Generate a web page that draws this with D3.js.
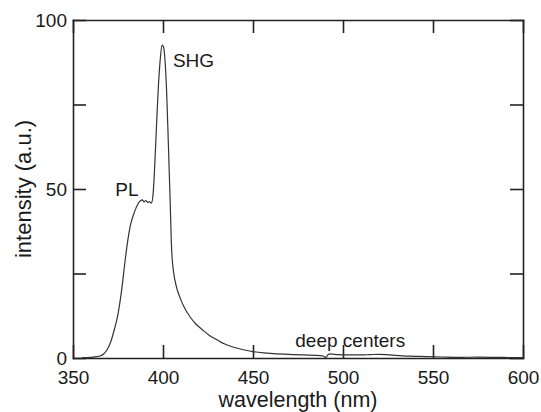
<!DOCTYPE html>
<html>
<head>
<meta charset="utf-8">
<script src="https://cdn.jsdelivr.net/npm/d3@7"></script>
<style>
  body { margin: 0; background: #fff; }
  svg { display: block; font-family: "Liberation Sans", Arial, sans-serif; }
  .axis path, .axis line { stroke: #222; stroke-width: 1.6; }
  .axis text { fill: #1a1a1a; font-size: 19px; }
</style>
</head>
<body>
<div id="chart"></div>
<script>
// spectrum
const wavelength = [355, 360, 363, 365, 367, 369, 371, 373, 375, 377, 379, 380.5, 382, 384, 386, 387.5, 388.5, 389.5, 390.5, 391.5, 392.5, 393.5, 394.5, 395.5, 396.5, 397.5, 398.5, 399.5, 400.3, 401, 402, 403, 404, 404.8, 406, 407.5, 409.5, 412, 415, 418, 422, 426, 430, 434, 438, 442, 446, 450, 456, 463, 470, 478, 485, 489, 490.5, 491.5, 493, 497, 504, 510, 515, 520, 526, 533, 540, 547, 555, 565, 575, 585, 592, 600]
const intensity = [0.1, 0.2, 0.4, 0.6, 1.2, 2.5, 4.8, 8.5, 13, 20, 29, 35, 39.5, 43, 45.5, 46.5, 46.8, 46.2, 46.6, 46.0, 46.3, 45.8, 48.5, 58, 70, 81, 88.5, 92.6, 92, 89, 79, 63, 46, 32, 25, 21, 17.8, 14.8, 12.2, 10.2, 8.3, 6.6, 5.4, 4.2, 3.4, 2.8, 2.3, 1.9, 1.5, 1.2, 1.1, 0.9, 0.8, 0.6, 0.1, 0.9, 1.2, 1.0, 0.9, 0.9, 1.0, 1.1, 0.9, 0.6, 0.5, 0.4, 0.3, 0.2, 0.25, 0.2, 0.15, 0.1]

const xTicks = [350, 400, 450, 500, 550, 600]
const yTicks = [0, 25, 50, 75, 100]
const yLabeled = [0, 50, 100]

const labels = [
  { text: 'SHG', w: 405.5, v: 86.2 },
  { text: 'PL', w: 373.5, v: 47.9 },
  { text: 'deep centers', w: 473.5, v: 3.3 }
]

const width = 541, height = 412
const margin = { top: 20, right: 18, bottom: 54, left: 73 }

const svg = d3.select('#chart').append('svg')
    .attr('width', width)
    .attr('height', height)

const x = d3.scaleLinear()
    .domain([350, 600])
    .range([margin.left, width - margin.right])

const y = d3.scaleLinear()
    .domain([0, 100])
    .range([height - margin.bottom, margin.top])

const inner = -13

// bottom + left with labels, top + right ticks only
svg.append('g')
    .attr('class', 'axis')
    .attr('transform', `translate(0, ${y(0)})`)
    .call(d3.axisBottom(x).tickValues(xTicks).tickSizeInner(inner).tickSizeOuter(0).tickPadding(13))

svg.append('g')
    .attr('class', 'axis')
    .attr('transform', `translate(${x(350)}, 0)`)
    .call(d3.axisLeft(y).tickValues(yTicks).tickSizeInner(inner).tickSizeOuter(0).tickPadding(6)
        .tickFormat(d => yLabeled.includes(d) ? d : ''))

svg.append('g')
    .attr('class', 'axis')
    .attr('transform', `translate(0, ${y(100)})`)
    .call(d3.axisTop(x).tickValues(xTicks).tickSizeInner(inner).tickSizeOuter(0).tickFormat(''))

svg.append('g')
    .attr('class', 'axis')
    .attr('transform', `translate(${x(600)}, 0)`)
    .call(d3.axisRight(y).tickValues(yTicks).tickSizeInner(inner).tickSizeOuter(0).tickFormat(''))

svg.selectAll('.axis .domain').attr('stroke-linecap', 'square')

const line = d3.line()
    .x(d => x(d[0]))
    .y(d => y(d[1]))
    .curve(d3.curveMonotoneX)

svg.append('path')
    .datum(d3.zip(wavelength, intensity))
    .attr('d', line)
    .attr('fill', 'none')
    .attr('stroke', '#333')
    .attr('stroke-width', 1.2)
    .attr('stroke-linejoin', 'round')

svg.selectAll('.note')
    .data(labels)
    .enter()
    .append('text')
    .attr('class', 'note')
    .attr('x', d => x(d.w))
    .attr('y', d => y(d.v))
    .text(d => d.text)
    .style('font-size', '19px')
    .style('fill', '#1a1a1a')

svg.append('text')
    .text('wavelength (nm)')
    .attr('x', (x(350) + x(600)) / 2)
    .attr('y', 407)
    .attr('text-anchor', 'middle')
    .style('font-size', '21.5px')
    .style('fill', '#1a1a1a')

svg.append('text')
    .text('intensity (a.u.)')
    .attr('transform', `translate(31, ${(y(0) + y(100)) / 2}) rotate(-90)`)
    .attr('text-anchor', 'middle')
    .style('font-size', '22px')
    .style('fill', '#1a1a1a')
</script>
</body>
</html>
